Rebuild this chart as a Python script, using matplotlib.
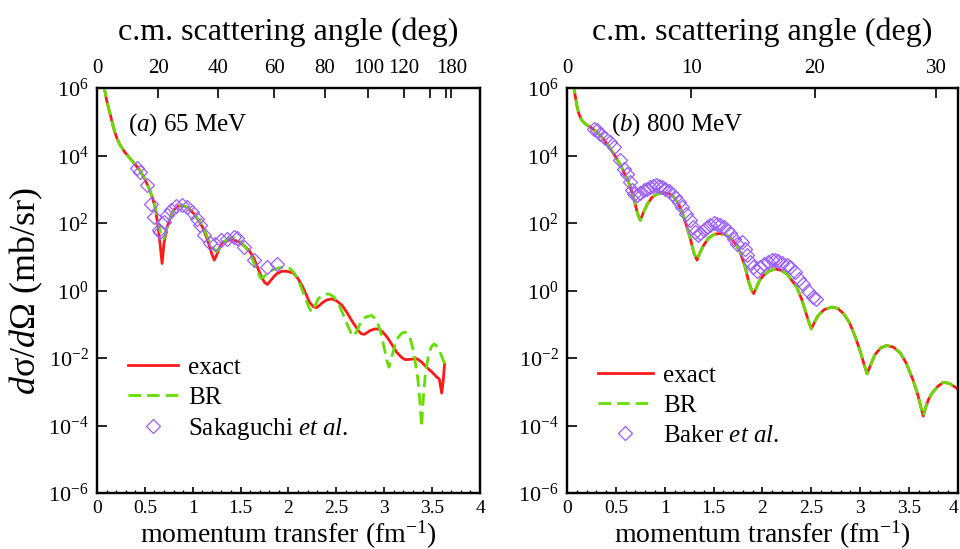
import matplotlib

matplotlib.use("Agg")

import numpy as np
import matplotlib.pyplot as plt
from matplotlib.ticker import FixedLocator, MultipleLocator, NullLocator, LogFormatterMathtext

plt.rcParams["font.family"] = ["Liberation Serif", "DejaVu Serif"]
plt.rcParams["mathtext.fontset"] = "custom"
plt.rcParams["mathtext.rm"] = "Liberation Serif"
plt.rcParams["mathtext.it"] = "Liberation Serif:italic"
plt.rcParams["axes.unicode_minus"] = False

# ---------------------------------------------------------------------------
#  data: momentum transfer q (fm^-1) and log10 of dsigma/dOmega (mb/sr)
# ---------------------------------------------------------------------------
# (a) 65 MeV
q_a_exact = [0.07, 0.10, 0.14, 0.18, 0.21, 0.24, 0.29, 0.35, 0.40, 0.45, 0.50, 0.54,
             0.58, 0.61, 0.64, 0.66, 0.68, 0.70, 0.73, 0.77, 0.80, 0.85, 0.89, 0.95,
             1.01, 1.06, 1.11, 1.16, 1.20, 1.225, 1.25, 1.29, 1.32, 1.37, 1.43, 1.48,
             1.53, 1.59, 1.64, 1.71, 1.75, 1.78, 1.81, 1.85, 1.88, 1.93, 1.98, 2.05,
             2.10, 2.15, 2.22, 2.26, 2.29, 2.32, 2.36, 2.40, 2.45, 2.50, 2.56, 2.61,
             2.66, 2.73, 2.76, 2.79, 2.82, 2.85, 2.90, 2.94, 2.98, 3.03, 3.08, 3.13,
             3.18, 3.22, 3.27, 3.34, 3.39, 3.44, 3.50, 3.55, 3.575, 3.60, 3.615, 3.63]
lg_a_exact = [6.1, 5.65, 5.2, 4.75, 4.5, 4.32, 4.1, 3.9, 3.73, 3.55, 3.3, 3.05,
              2.75, 2.43, 1.85, 1.35, 0.8, 1.4, 1.85, 2.2, 2.38, 2.5, 2.53, 2.45,
              2.28, 2.08, 1.84, 1.45, 1.08, 0.9, 1.05, 1.33, 1.44, 1.49, 1.49, 1.45,
              1.34, 1.18, 0.95, 0.45, 0.24, 0.18, 0.28, 0.42, 0.5, 0.57, 0.57, 0.52,
              0.35, 0.1, -0.35, -0.48, -0.51, -0.45, -0.35, -0.28, -0.25, -0.3, -0.44, -0.65,
              -0.89, -1.19, -1.28, -1.3, -1.25, -1.19, -1.14, -1.14, -1.22, -1.38, -1.6, -1.83,
              -1.98, -2.05, -2.04, -2.02, -2.12, -2.27, -2.42, -2.57, -2.62, -3.04, -2.7, -2.17]

q_a_br = [0.07, 0.10, 0.14, 0.18, 0.21, 0.24, 0.29, 0.35, 0.40, 0.45, 0.50, 0.54,
          0.58, 0.61, 0.64, 0.67, 0.70, 0.72, 0.75, 0.80, 0.85, 0.89, 0.95, 1.01,
          1.06, 1.11, 1.16, 1.20, 1.25, 1.29, 1.33, 1.38, 1.42, 1.47, 1.52, 1.57,
          1.62, 1.67, 1.71, 1.74, 1.78, 1.84, 1.90, 1.96, 2.01, 2.06, 2.11, 2.16,
          2.21, 2.24, 2.27, 2.31, 2.36, 2.42, 2.47, 2.52, 2.57, 2.62, 2.66, 2.68,
          2.71, 2.76, 2.81, 2.87, 2.92, 2.96, 3.00, 3.03, 3.05, 3.08, 3.13, 3.18,
          3.22, 3.27, 3.31, 3.35, 3.37, 3.39, 3.41, 3.43, 3.46, 3.49, 3.52, 3.56,
          3.60, 3.63]
lg_a_br = [6.1, 5.65, 5.2, 4.75, 4.5, 4.32, 4.1, 3.9, 3.73, 3.55, 3.3, 3.05,
           2.75, 2.45, 2.0, 1.65, 1.54, 1.75, 2.05, 2.35, 2.5, 2.53, 2.45, 2.28,
           2.1, 1.88, 1.55, 1.3, 1.15, 1.3, 1.46, 1.55, 1.57, 1.52, 1.4, 1.2,
           0.95, 0.6, 0.36, 0.4, 0.52, 0.62, 0.67, 0.69, 0.66, 0.52, 0.25, -0.1,
           -0.48, -0.64, -0.5, -0.25, -0.12, -0.1, -0.18, -0.38, -0.7, -1.05, -1.3, -1.36,
           -1.22, -0.92, -0.78, -0.74, -0.88, -1.2, -1.7, -2.1, -2.27, -1.95, -1.45, -1.27,
           -1.23, -1.4, -1.85, -2.6, -3.2, -4.05, -3.1, -2.45, -1.95, -1.68, -1.58, -1.68,
           -1.95, -2.17]

q_a_data = [0.418, 0.452, 0.522, 0.564, 0.592, 0.644, 0.661, 0.696, 0.731, 0.773,
            0.829, 0.888, 0.940, 0.992, 1.044, 1.079, 1.121, 1.184, 1.236, 1.295,
            1.358, 1.428, 1.462, 1.532, 1.636, 1.775, 1.880]
lg_a_data = [3.64, 3.52, 3.12, 2.56, 2.18, 1.79, 1.72, 2.03, 2.23, 2.38,
             2.51, 2.53, 2.46, 2.33, 2.13, 1.93, 1.64, 1.42, 1.39, 1.49,
             1.54, 1.59, 1.56, 1.29, 0.90, 0.70, 0.80]

# (b) 800 MeV
q_b_exact = [0.06, 0.08, 0.10, 0.12, 0.15, 0.19, 0.24, 0.29, 0.34, 0.39, 0.44, 0.50,
             0.55, 0.59, 0.63, 0.66, 0.69, 0.72, 0.75, 0.78, 0.82, 0.87, 0.93, 0.99,
             1.05, 1.09, 1.14, 1.18, 1.22, 1.26, 1.30, 1.33, 1.36, 1.40, 1.45, 1.51,
             1.57, 1.63, 1.67, 1.72, 1.77, 1.82, 1.86, 1.89, 1.91, 1.94, 1.97, 2.01,
             2.07, 2.13, 2.19, 2.25, 2.30, 2.35, 2.40, 2.44, 2.47, 2.50, 2.53, 2.57,
             2.63, 2.71, 2.77, 2.83, 2.89, 2.95, 3.00, 3.04, 3.07, 3.10, 3.15, 3.21,
             3.27, 3.34, 3.41, 3.47, 3.54, 3.59, 3.62, 3.645, 3.67, 3.70, 3.73, 3.79,
             3.85, 3.91, 3.97, 4.02]
lg_b_exact = [6.2, 5.85, 5.5, 5.25, 5.05, 4.93, 4.84, 4.73, 4.6, 4.42, 4.22, 3.95,
              3.7, 3.46, 3.22, 2.95, 2.65, 2.3, 2.08, 2.3, 2.55, 2.76, 2.87, 2.9,
              2.86, 2.78, 2.58, 2.3, 1.95, 1.55, 1.1, 0.9, 1.12, 1.35, 1.56, 1.67,
              1.69, 1.64, 1.57, 1.4, 1.15, 0.72, 0.25, 0.0, -0.09, 0.1, 0.3, 0.45,
              0.58, 0.64, 0.6, 0.49, 0.3, 0.1, -0.25, -0.62, -0.9, -1.14, -0.95, -0.74,
              -0.57, -0.49, -0.53, -0.69, -0.95, -1.38, -1.8, -2.2, -2.47, -2.25, -1.9, -1.7,
              -1.63, -1.68, -1.85, -2.15, -2.65, -3.1, -3.45, -3.72, -3.45, -3.22, -3.06, -2.85,
              -2.72, -2.75, -2.86, -2.98]
# the BR result coincides with the exact one at 800 MeV
q_b_br = q_b_exact
lg_b_br = lg_b_exact

q_b_data = [0.273, 0.307, 0.341, 0.392, 0.436, 0.484, 0.546, 0.587, 0.614, 0.641,
            0.665, 0.682, 0.716, 0.750, 0.784, 0.818, 0.853, 0.880, 0.907, 0.938,
            0.972, 1.006, 1.040, 1.074, 1.108, 1.142, 1.176, 1.221, 1.262, 1.289,
            1.313, 1.337, 1.364, 1.398, 1.432, 1.466, 1.500, 1.535, 1.569, 1.603,
            1.637, 1.671, 1.705, 1.739, 1.787, 1.821, 1.845, 1.872, 1.906, 1.940,
            1.974, 2.015, 2.060, 2.094, 2.128, 2.162, 2.196, 2.247, 2.281, 2.333,
            2.377, 2.418, 2.469, 2.520, 2.547]
lg_b_data = [4.80, 4.75, 4.65, 4.52, 4.40, 4.26, 3.86, 3.61, 3.44, 3.22,
             2.97, 2.87, 2.84, 2.90, 2.97, 3.02, 3.07, 3.10, 3.12, 3.10,
             3.07, 3.02, 2.94, 2.87, 2.78, 2.63, 2.48, 2.28, 2.08, 1.89,
             1.72, 1.64, 1.69, 1.79, 1.89, 1.94, 1.99, 1.96, 1.94, 1.89,
             1.79, 1.69, 1.54, 1.39, 1.43, 1.24, 1.04, 0.84, 0.69, 0.59,
             0.69, 0.79, 0.84, 0.91, 0.91, 0.87, 0.81, 0.77, 0.71, 0.54,
             0.35, 0.18, 0.00, -0.18, -0.25]

# c.m. angle axis: ticks (deg) and the c.m. wave number k (fm^-1), q = 2k sin(theta/2)
angles_a = [0, 20, 40, 60, 80, 100, 120, 140, 160, 180]
angle_labels_a = ["0", "20", "40", "60", "80", "100", "120", "", "", "180"]
k_a = 1.85
angles_b = [0, 10, 20, 30]
angle_labels_b = ["0", "10", "20", "30"]
k_b = 7.3

q_ticks = [0, 0.5, 1, 1.5, 2, 2.5, 3, 3.5, 4]
q_tick_labels = ["0", "0.5", "1", "1.5", "2", "2.5", "3", "3.5", "4"]
y_ticks = [1e-6, 1e-4, 1e-2, 1e0, 1e2, 1e4, 1e6]

RED = "#ff1a1a"
GREEN = "#66dd00"
PURPLE = "#9b5cff"


def draw_panel(ax, q_ex, lg_ex, q_br, lg_br, q_d, lg_d, data_label,
               angles, angle_labels, k, panel_text, text_x):
    l_ex, = ax.plot(q_ex, 10.0 ** np.array(lg_ex), color=RED, lw=2.0, label="exact", zorder=3)
    l_br, = ax.plot(q_br, 10.0 ** np.array(lg_br), color=GREEN, lw=2.0,
                    dashes=(4.5, 2.2), label="BR", zorder=4)
    l_d, = ax.plot(q_d, 10.0 ** np.array(lg_d), ls="none", marker="D", ms=7.3,
                   mfc="none", mec=PURPLE, mew=0.9, label=data_label, zorder=5)

    ax.set_yscale("log")
    ax.set_xlim(0, 4)
    ax.set_ylim(1e-6, 1e6)
    ax.yaxis.set_major_locator(FixedLocator(y_ticks))
    ax.yaxis.set_major_formatter(LogFormatterMathtext())
    ax.yaxis.set_minor_locator(NullLocator())
    ax.set_xticks(q_ticks)
    ax.set_xticklabels(q_tick_labels)
    ax.xaxis.set_minor_locator(MultipleLocator(0.1))
    ax.tick_params(axis="x", which="major", direction="in", length=4, width=1.2,
                   labelsize=14, pad=5, top=False)
    ax.tick_params(axis="x", which="minor", direction="in", length=2.5, width=1.0, top=False)
    ax.tick_params(axis="y", which="major", direction="in", length=7, width=1.2,
                   labelsize=16, pad=6, right=False)
    for sp in ax.spines.values():
        sp.set_linewidth(1.6)
    ax.set_xlabel(r"momentum transfer (fm$^{-1}$)", fontsize=20, labelpad=1)

    top = ax.twiny()
    top.set_xlim(0, 4)
    top.set_xticks([2 * k * np.sin(np.radians(a) / 2) for a in angles])
    top.set_xticklabels(angle_labels)
    top.tick_params(axis="x", direction="in", length=7, width=1.2, labelsize=15, pad=7)
    top.set_xlabel("c.m. scattering angle (deg)", fontsize=23, labelpad=14)
    for sp in top.spines.values():
        sp.set_linewidth(1.6)

    ax.text(text_x, 0.91, panel_text, transform=ax.transAxes, fontsize=18,
            ha="left", va="center")
    return l_ex, l_br, l_d


fig = plt.figure(figsize=(9.6, 5.49), dpi=100)
ax_a = fig.add_axes([0.1010, 0.1020, 0.3990, 0.7377])
ax_b = fig.add_axes([0.5906, 0.1020, 0.4073, 0.7377])

h_a = draw_panel(ax_a, q_a_exact, lg_a_exact, q_a_br, lg_a_br, q_a_data, lg_a_data,
                 r"Sakaguchi $et\ al.$", angles_a, angle_labels_a, k_a,
                 r"($a$) 65 MeV", 0.081)
h_b = draw_panel(ax_b, q_b_exact, lg_b_exact, q_b_br, lg_b_br, q_b_data, lg_b_data,
                 r"Baker $et\ al.$", angles_b, angle_labels_b, k_b,
                 r"($b$) 800 MeV", 0.1125)

# the last label of the right panel sits at the figure edge
ax_b.get_xticklabels()[-1].set_horizontalalignment("right")

ax_a.set_ylabel(r"$d$σ/$d$Ω (mb/sr)", fontsize=26, labelpad=2)

ax_a.legend(handles=list(h_a), loc="upper left", bbox_to_anchor=(0.081, 0.338),
            frameon=False, fontsize=18, handlelength=2.0, handletextpad=0.4,
            labelspacing=0.3, borderpad=0, borderaxespad=0)
ax_b.legend(handles=list(h_b), loc="upper left", bbox_to_anchor=(0.079, 0.318),
            frameon=False, fontsize=18, handlelength=2.2, handletextpad=0.4,
            labelspacing=0.3, borderpad=0, borderaxespad=0)

fig.savefig("out.png", dpi=100)
